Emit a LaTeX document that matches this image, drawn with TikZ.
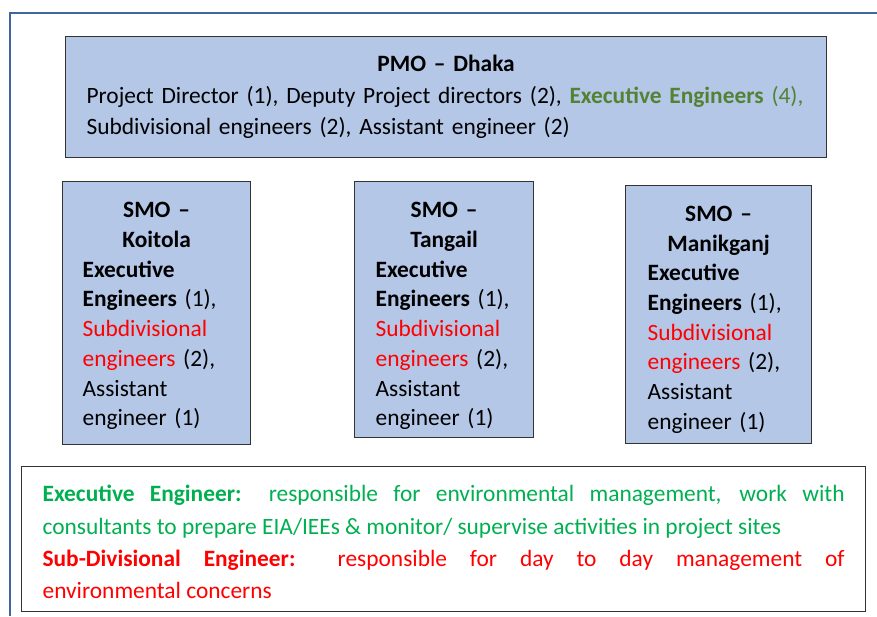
\documentclass[tikz,border=0pt]{standalone}
\usepackage{fontspec}
\setmainfont{Carlito}
\usetikzlibrary{positioning}

\definecolor{boxblue}{HTML}{B4C7E7}
\definecolor{frameblue}{HTML}{41669E}
\definecolor{pmogreen}{HTML}{548235}
\definecolor{notegreen}{HTML}{00B050}
\definecolor{notered}{HTML}{FF0000}

\begin{document}
\begin{tikzpicture}[x=1pt, y=-1pt,
    office/.style={draw=black!80, line width=1.2pt, anchor=north west, align=left,
        inner ysep=0pt},
    pmobox/.style={office, fill=boxblue, inner xsep=21pt, text width=719pt,
        minimum height=121pt, font=\fontsize{23.4}{31.5}\selectfont},
    smobox/.style={office, fill=boxblue,
        font=\fontsize{23.4}{29.7}\selectfont},
    notebox/.style={office, inner xsep=21pt, text width=802pt, minimum height=145pt,
        align=justify, font=\fontsize{23.4}{32.3}\selectfont}]
    \useasboundingbox (0,0) rectangle (877,616);

    % Outer frame (only top and left edges show)
    \draw[frameblue, line width=2.5pt] (877,13) -- (10,13) -- (10,616);

    % PMO box
    \node[pmobox] (pmo) at (65,36) {{\centering\bfseries PMO -- Dhaka\par}
        \noindent Project Director (1), Deputy Project directors (2), {\color{pmogreen}\textbf{Executive Engineers} (4),}\\
        Subdivisional engineers (2), Assistant engineer (2)};

    % SMO boxes (the tall strut pushes the text a bit lower in the box)
    \node[smobox, inner xsep=20pt, text width=148pt, minimum height=263pt] (koitola) at (62,181)
        {{\centering\bfseries\rule{0pt}{21.5pt}SMO --\\ Koitola\par}
        \noindent\textbf{Executive}\\ \textbf{Engineers} (1),\\ {\color{notered}Subdivisional}\\
        {\color{notered}engineers} (2),\\ Assistant\\ engineer (1)};
    \node[smobox, inner xsep=21pt, text width=137pt, minimum height=256pt] (tangail) at (354,181)
        {{\centering\bfseries\rule{0pt}{28.4pt}SMO --\\ Tangail\par}
        \noindent\textbf{Executive}\\ \textbf{Engineers} (1),\\ {\color{notered}Subdivisional}\\
        {\color{notered}engineers} (2),\\ Assistant\\ engineer (1)};
    \node[smobox, inner xsep=22pt, text width=142pt, minimum height=258pt] (manikganj) at (625,185)
        {{\centering\bfseries\rule{0pt}{25.4pt}SMO --\\ Manikganj\par}
        \noindent\textbf{Executive}\\ \textbf{Engineers} (1),\\ {\color{notered}Subdivisional}\\
        {\color{notered}engineers} (2),\\ Assistant\\ engineer (1)};

    % Notes on the two roles
    \node[notebox] (notes) at (21,466)
        {{\noindent\rule{0pt}{22.6pt}\color{notegreen}\textbf{Executive Engineer:} responsible for environmental management, work with\linebreak
        consultants to prepare EIA/IEEs \& monitor/ supervise activities in project sites\par}
        {\noindent\color{notered}\textbf{Sub-Divisional Engineer:} responsible for day to day management of\linebreak
        environmental concerns\par}};
\end{tikzpicture}
\end{document}
